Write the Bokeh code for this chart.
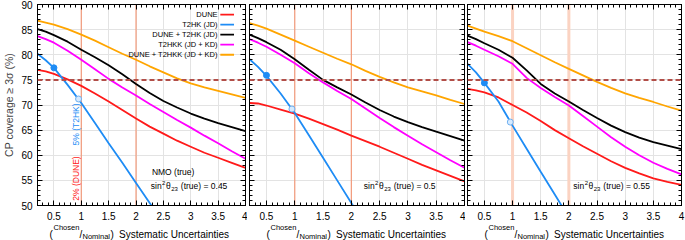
import math
from bokeh.plotting import figure
from bokeh.layouts import row, column
from bokeh.models import (FixedTicker, NumeralTickFormatter, LinearAxis, Label, Span,
                          CustomJSTickFormatter, Range1d)
from bokeh.embed import file_html
from bokeh.resources import INLINE
from bokeh.core.properties import value

NAN = float("nan")

# ---------------- data ----------------
X = [0.2, 0.35, 0.5, 0.75, 1.0, 1.25, 1.5, 1.75, 2.0, 2.25, 2.5, 2.75, 3.0, 3.25, 3.5, 3.75, 4.0]

SERIES = ["DUNE", "T2HK (JD)", "DUNE + T2HK (JD)", "T2HKK (JD + KD)", "DUNE + T2HKK (JD + KD)"]
COLORS = ["#ff1a1a", "#1e8cf5", "#000000", "#ff00ff", "#ffa500"]

# sin^2 theta23 (true) = 0.45
dune_045 = [77.0, 76.7, 76.2, 75.1, 73.8, 72.3, 70.7, 69.0, 67.3, 65.7, 64.3, 62.9, 61.7, 60.5, 59.5, 58.5, 57.5]
t2hk_045 = [80.2, 78.9, 77.4, 74.0, 70.4, 66.4, 62.4, 58.5, 54.5, 50.5, 46.5, NAN, NAN, NAN, NAN, NAN, NAN]
dune_t2hk_045 = [85.1, 84.6, 83.9, 82.6, 81.0, 79.5, 77.9, 76.1, 74.2, 72.4, 70.8, 69.5, 68.3, 67.3, 66.4, 65.6, 64.8]
t2hkk_045 = [83.7, 83.1, 82.4, 80.8, 79.0, 77.1, 75.2, 73.5, 71.9, 70.2, 68.6, 67.0, 65.5, 63.9, 62.4, 60.8, 59.3]
dune_t2hkk_045 = [86.8, 86.4, 86.0, 85.1, 84.0, 82.8, 81.5, 80.2, 79.0, 77.7, 76.5, 75.3, 74.3, 73.5, 72.8, 72.1, 71.4]

# sin^2 theta23 (true) = 0.5
dune_050 = [70.4, 70.3, 69.9, 69.1, 68.3, 67.3, 66.2, 65.1, 63.9, 62.8, 61.7, 60.5, 59.3, 58.1, 57.0, 55.9, 54.8]
t2hk_050 = [79.1, 77.6, 75.8, 72.3, 68.4, 64.0, 59.5, 55.0, 50.5, 46.0, NAN, NAN, NAN, NAN, NAN, NAN, NAN]
dune_t2hk_050 = [84.0, 83.3, 82.5, 81.0, 79.1, 77.0, 75.0, 73.5, 72.1, 70.5, 69.0, 67.7, 66.6, 65.6, 64.7, 63.8, 62.9]
t2hkk_050 = [83.1, 82.4, 81.6, 80.0, 78.3, 76.3, 74.5, 72.8, 71.2, 69.3, 67.4, 65.6, 63.9, 62.2, 60.6, 59.0, 57.5]
dune_t2hkk_050 = [86.3, 85.8, 85.2, 84.0, 82.8, 81.6, 80.4, 79.2, 78.1, 76.8, 75.6, 74.5, 73.5, 72.7, 71.9, 71.0, 70.2]

# sin^2 theta23 (true) = 0.55
dune_055 = [73.2, 72.9, 72.5, 71.5, 70.0, 68.5, 66.8, 65.0, 63.4, 61.8, 60.3, 58.8, 57.5, 56.4, 55.4, 54.7, 54.1]
t2hk_055 = [78.2, 76.5, 74.4, 70.7, 65.9, 61.3, 56.7, 52.2, 47.6, NAN, NAN, NAN, NAN, NAN, NAN, NAN, NAN]
dune_t2hk_055 = [83.8, 83.1, 82.3, 81.0, 79.4, 76.9, 74.2, 72.3, 70.7, 69.0, 67.4, 65.9, 64.6, 63.5, 62.6, 61.9, 61.2]
t2hkk_055 = [82.5, 81.8, 81.0, 79.7, 78.2, 75.4, 73.4, 71.6, 69.9, 67.8, 65.7, 63.6, 61.7, 60.0, 58.5, 57.3, 56.2]
dune_t2hkk_055 = [85.8, 85.2, 84.6, 83.7, 82.7, 81.3, 79.9, 78.5, 77.2, 75.9, 74.6, 73.4, 72.3, 71.4, 70.6, 69.7, 68.9]

# T2HK markers: chosen (filled) and nominal (open)
chosen_x = [0.5, 0.5, 0.5]
chosen_y = [77.4, 75.9, 74.4]
nominal_x = [0.95, 0.95, 0.96]
nominal_y = [71.2, 69.2, 66.6]

THETA_VALUES = ["0.45", "0.5", "0.55"]
THRESHOLD = 75
REF_LINES = [1, 2]

X_TICKS = [0.5, 1, 1.5, 2, 2.5, 3, 3.5, 4]
Y_TICKS = [50, 55, 60, 65, 70, 75, 80, 85, 90]

PANELS = [
    [dune_045, t2hk_045, dune_t2hk_045, t2hkk_045, dune_t2hkk_045],
    [dune_050, t2hk_050, dune_t2hk_050, t2hkk_050, dune_t2hkk_050],
    [dune_055, t2hk_055, dune_t2hk_055, t2hkk_055, dune_t2hkk_055],
]

# ---------------- layout ----------------
FONT = "Liberation Sans"
W_TOTAL = 685
H_TOTAL = 240
H = 223            # panel figure height
TOP = 4
FRAME_BOTTOM = 205
BOTTOM = H - FRAME_BOTTOM
FRAME_H = FRAME_BOTTOM - TOP
XMIN, XMAX, YMIN, YMAX = 0.2, 4.0, 50, 90

# (width, min_border_left, min_border_right)
GEOM = [(247, 32, 2), (218, 2, 1), (220, 2, 4)]
FRAME_LEFT = [32, 249, 467]
SOTEXT_X = [2.27, 2.22, 2.08]
REF_STYLE = [("#f39a7a", 1.2), ("#f39a7a", 1.2), ("#fbd3c2", 3)]

X_MINOR = [round(0.2 + 0.1 * i, 2) for i in range(39)]
Y_MINOR = list(range(50, 91))


def ydat(py):
    return YMAX - (py - TOP) * (YMAX - YMIN) / FRAME_H


def style_axis(ax, labels):
    ax.axis_line_color = "black"
    ax.major_tick_in = 5
    ax.major_tick_out = 0
    ax.minor_tick_in = 3
    ax.minor_tick_out = 0
    ax.major_tick_line_color = "black"
    ax.minor_tick_line_color = "black"
    ax.major_label_text_font = FONT
    if labels:
        ax.major_label_text_font_size = "10px"
        ax.major_label_text_color = "black"
    else:
        ax.major_label_text_font_size = "0px"
        ax.major_label_standoff = 0
        ax.formatter = CustomJSTickFormatter(code="return ''")


def label(p, x, y, text, size, color="black", x_offset=0, angle=0, align="left"):
    p.add_layout(Label(x=x, y=y, x_offset=x_offset, text=text, text_font=FONT,
                       text_font_size=f"{size}px", text_baseline="middle", text_align=align,
                       text_color=color, angle=angle))


figs = []
for i, series_vals in enumerate(PANELS):
    w, bl, br = GEOM[i]
    p = figure(width=w, height=H, x_range=Range1d(XMIN, XMAX), y_range=Range1d(YMIN, YMAX),
               output_backend="svg", toolbar_location=None,
               min_border_left=bl, min_border_right=br, min_border_top=TOP, min_border_bottom=BOTTOM)
    p.outline_line_color = "black"
    p.background_fill_color = "white"
    p.border_fill_color = "white"

    xt = FixedTicker(ticks=X_TICKS, minor_ticks=X_MINOR)
    yt = FixedTicker(ticks=Y_TICKS, minor_ticks=Y_MINOR)

    p.xaxis.ticker = xt
    p.yaxis.ticker = yt
    p.xaxis.formatter = NumeralTickFormatter(format="0.[0]")
    style_axis(p.xaxis[0], True)
    p.xaxis.major_label_standoff = 6
    style_axis(p.yaxis[0], i == 0)
    if i == 0:
        p.yaxis.major_label_standoff = 5
        p.yaxis.axis_label = "CP coverage \u2265 3\u03c3 (%)"
        p.yaxis.axis_label_text_font = FONT
        p.yaxis.axis_label_text_font_size = "10.5px"
        p.yaxis.axis_label_text_font_style = "normal"
        p.yaxis.axis_label_standoff = 3

    top_ax = LinearAxis(ticker=xt)
    style_axis(top_ax, False)
    p.add_layout(top_ax, "above")
    right_ax = LinearAxis(ticker=yt)
    style_axis(right_ax, False)
    p.add_layout(right_ax, "right")

    p.xgrid.ticker = xt
    p.ygrid.ticker = yt
    p.xgrid.grid_line_color = "#e3e3e3"
    p.ygrid.grid_line_color = "#e3e3e3"

    rc, rw = REF_STYLE[i]
    for xv in REF_LINES:
        p.add_layout(Span(location=xv, dimension="height", line_color=rc, line_width=rw, level="underlay"))

    for name, vals, col in zip(SERIES, series_vals, COLORS):
        p.line(X, vals, line_color=col, line_width=1.8)

    p.add_layout(Span(location=THRESHOLD, dimension="width", line_color="#b24e48",
                      line_width=2, line_dash="5 3"))

    p.scatter([chosen_x[i]], [chosen_y[i]], size=6, fill_color="#1e8cf5", line_color="#1e8cf5")
    p.scatter([nominal_x[i]], [nominal_y[i]], size=6, fill_color="#d6eaff", line_color="#6fb0f0")

    # sin^2 theta23 annotation
    sx = SOTEXT_X[i]
    ym = ydat(185.5)
    pieces = [("sin", 0, 8.5, ym), ("2", 11.3, 6.0, ydat(182)), ("\u03b8", 15.2, 8.5, ym),
              ("23", 20.4, 6.0, ydat(188.5)), ("(true) = " + THETA_VALUES[i], 30.0, 8.5, ym)]
    for t, off, fs, yy in pieces:
        label(p, sx, yy, t, fs, x_offset=off)
    figs.append(p)

p1 = figs[0]
# legend (label on the left, line on the right)
LEG_Y = [88, 86, 84, 82, 80]
p1.text(x=[3.49] * 5, y=LEG_Y, text=SERIES, text_align="right", text_baseline="middle",
        text_font=value(FONT), text_font_size="7.5px", text_color="black")
p1.segment(x0=[3.54] * 5, y0=LEG_Y, x1=[3.79] * 5, y1=LEG_Y, line_color=COLORS, line_width=1.8)

label(p1, 0.9, ydat(124), "5% (T2HK)", 8.5, color="#1e8cf5", angle=math.pi / 2, align="center")
label(p1, 0.9, ydat(178), "2% (DUNE)", 8.5, color="#ff1a1a", angle=math.pi / 2, align="center")
label(p1, 2.29, ydat(171), "NMO (true)", 8.5)

# ---------------- x-axis title strip (below the panels) ----------------
strip = figure(width=W_TOTAL, height=H_TOTAL - H, x_range=Range1d(0, W_TOTAL),
               y_range=Range1d(H_TOTAL, H), x_axis_type=None, y_axis_type=None,
               output_backend="svg", toolbar_location=None,
               min_border_left=0, min_border_right=0, min_border_top=0, min_border_bottom=0)
strip.outline_line_color = None
strip.background_fill_color = "white"
strip.border_fill_color = "white"

TITLE_PIECES = [("(", 17, 10, 233.5), ("Chosen", 21, 7.5, 227.4), ("/", 47, 10, 233.5),
                ("Nominal", 50, 7.5, 236.0), (")", 78, 10, 233.5),
                ("Systematic Uncertainties", 86.5, 10, 233.5)]
for fl in FRAME_LEFT:
    for t, off, fs, yy in TITLE_PIECES:
        strip.text(x=[fl + off], y=[yy], text=[t], text_align="left", text_baseline="middle",
                   text_font=value(FONT), text_font_size=f"{fs}px", text_color="black")

layout = column(row(*figs, spacing=0), strip, spacing=0)
open("out.html", "w").write(file_html(layout, INLINE))
